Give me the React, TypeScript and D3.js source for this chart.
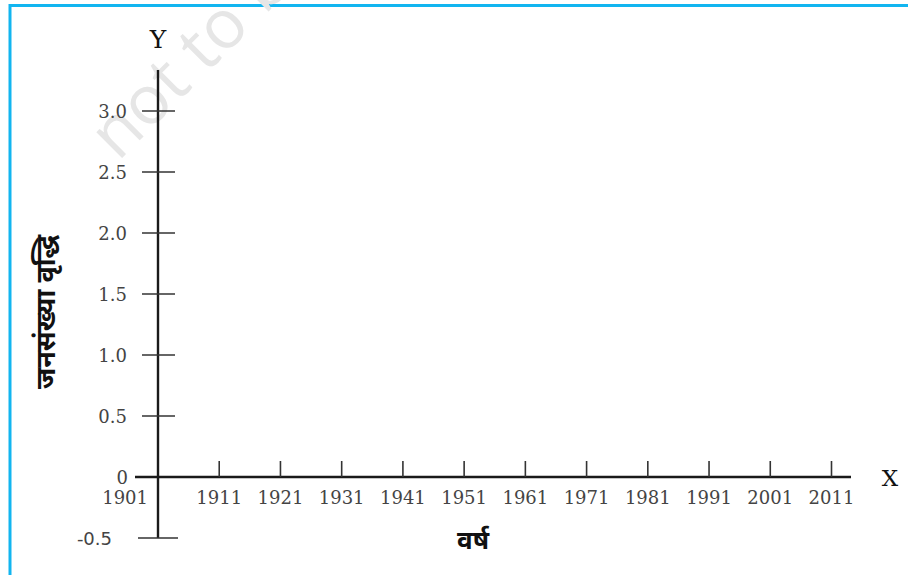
import React from "react";
import * as d3 from "d3";

const W = 908;
const H = 575;

const yearTicks = [1901, 1911, 1921, 1931, 1941, 1951, 1961, 1971, 1981, 1991, 2001, 2011];
const growthTicks = [0.5, 1.0, 1.5, 2.0, 2.5, 3.0];
const growthTickLabels = ["0.5", "1.0", "1.5", "2.0", "2.5", "3.0"];
const negativeTick = -0.5;
const yTitle = "जनसंख्या वृद्धि";
const xTitle = "वर्ष";
const watermark = "not to be republished";

const serif = "'DejaVu Serif', 'Liberation Serif', serif";
const sans = "'DejaVu Sans', 'Noto Sans', sans-serif";
const deva = "'Noto Sans Devanagari', 'Lohit Devanagari', 'Mangal', 'FreeSans', 'Noto Sans', sans-serif";

export default function App() {
  const x = d3.scaleLinear().domain([1901, 2011]).range([158, 831.5]);
  const y = d3.scaleLinear().domain([0, 3]).range([477, 111]);
  const x0 = x(1901);
  const y0 = y(0);

  return (
    <div style={{ position: "absolute", left: 0, top: 0 }}>
      <svg width={W} height={H} style={{ display: "block", background: "#fff" }}>
        {/* frame */}
        <line x1={10} y1={5.5} x2={W} y2={5.5} stroke="#12b5f0" strokeWidth={3} />
        <line x1={10} y1={4} x2={10} y2={H} stroke="#12b5f0" strokeWidth={3} />

        {/* watermark */}
        <text
          x={118}
          y={162}
          transform="rotate(-45 118 162)"
          fontFamily="'Open Sans', 'Noto Sans', sans-serif"
          fontSize={68}
          fill="#e6e6e6"
        >
          {watermark}
        </text>

        {/* Y axis */}
        <line x1={x0} y1={70} x2={x0} y2={y(negativeTick)} stroke="#1a1a1a" strokeWidth={2.4} />
        {growthTicks.map((v) => (
          <line key={"yt" + v} x1={142} x2={175} y1={y(v)} y2={y(v)} stroke="#333" strokeWidth={1.6} />
        ))}
        <line x1={138} x2={178} y1={y(negativeTick)} y2={y(negativeTick)} stroke="#333" strokeWidth={1.6} />
        {growthTicks.map((v, i) => (
          <text
            key={"yl" + v}
            x={127}
            y={y(v) + 6.5}
            textAnchor="end"
            fontFamily={serif}
            fontSize={18}
            fill="#444"
          >
            {growthTickLabels[i]}
          </text>
        ))}
        <text x={128} y={y0 + 6.5} textAnchor="end" fontFamily={serif} fontSize={18} fill="#444">
          0
        </text>
        <text x={112} y={y(negativeTick) + 6.5} textAnchor="end" fontFamily={sans} fontSize={18} fill="#444">
          -0.5
        </text>

        {/* X axis */}
        <line x1={135} y1={y0} x2={851} y2={y0} stroke="#1a1a1a" strokeWidth={2.4} />
        {yearTicks.slice(1).map((t) => (
          <line key={"xt" + t} x1={x(t)} x2={x(t)} y1={y0} y2={y0 - 16} stroke="#333" strokeWidth={1.6} />
        ))}
        {yearTicks.map((t, i) => (
          <text
            key={"xl" + t}
            x={i === 0 ? 148 : x(t)}
            y={504}
            textAnchor={i === 0 ? "end" : "middle"}
            fontFamily={serif}
            fontSize={18}
            fill="#444"
          >
            {t}
          </text>
        ))}

        {/* axis letters */}
        <text x={x0} y={48} textAnchor="middle" fontFamily={serif} fontSize={25} fill="#111">
          Y
        </text>
        <text x={890} y={485.5} textAnchor="middle" fontFamily={serif} fontSize={23} fill="#111">
          X
        </text>

        {/* titles */}
        <text
          x={48}
          y={312}
          transform="rotate(-90 48 312)"
          textAnchor="middle"
          dominantBaseline="central"
          fontFamily={deva}
          fontWeight="bold"
          fontSize={27}
          fill="#111"
        >
          {yTitle}
        </text>
        <text
          x={473}
          y={543}
          textAnchor="middle"
          dominantBaseline="central"
          fontFamily={deva}
          fontWeight="bold"
          fontSize={26}
          fill="#111"
        >
          {xTitle}
        </text>
      </svg>
    </div>
  );
}
